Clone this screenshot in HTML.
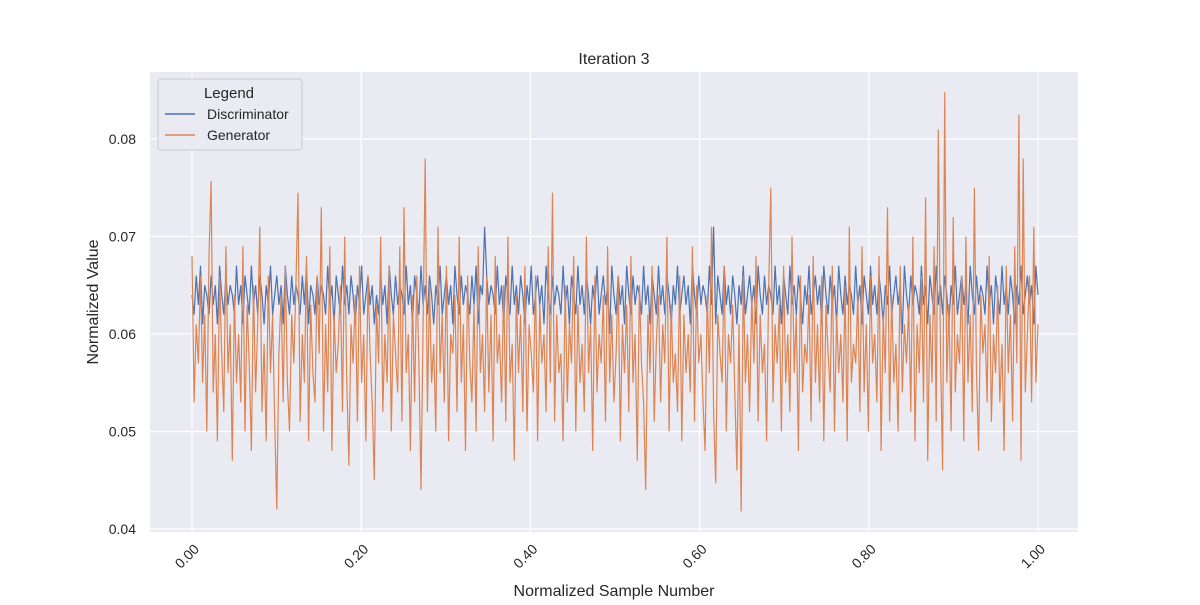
<!DOCTYPE html>
<html><head><meta charset="utf-8"><style>
body{margin:0;background:#fff;font-family:"Liberation Sans",sans-serif}
svg text{font-family:"Liberation Sans",sans-serif;fill:#262626}
</style></head><body>
<svg id="chart" width="1200" height="600">
<rect x="150" y="72" width="928" height="460" fill="#eaeaf2"/>
<g id="grid"></g>
<g id="series"></g>
<g id="axes"></g>
<text x="614" y="64" text-anchor="middle" font-size="16">Iteration 3</text>
<text x="614" y="596" text-anchor="middle" font-size="16">Normalized Sample Number</text>
<text transform="translate(98,302) rotate(-90)" text-anchor="middle" font-size="16">Normalized Value</text>
<g>
<rect x="158" y="79" width="144" height="71" rx="3" fill="#eaeaf2" stroke="#cccccc"/>
<text x="229" y="98" text-anchor="middle" font-size="15">Legend</text>
<line x1="165" y1="114" x2="195" y2="114" stroke="#4c72b0" stroke-width="1.5"/>
<text x="207" y="119" font-size="14">Discriminator</text>
<line x1="165" y1="135" x2="195" y2="135" stroke="#dd8452" stroke-width="1.5"/>
<text x="207" y="140" font-size="14">Generator</text>
</g>
</svg>
<script>
const yTicks=[0.04,0.05,0.06,0.07,0.08];
const xTicks=[0,0.2,0.4,0.6,0.8,1.0];
const xTickLabels=["0.00","0.20","0.40","0.60","0.80","1.00"];
const generator=[
68,53,61,57,66,55,62,50,68,75.7,54,60,49,66,58,52,69,56,61,47,
64,55,60,53,69,50,63,57,48,65,54,61,71,52,59,49,66,56,62,51,
42,58,64,53,67,55,50,62,57,65,74.5,51,60,55,68,49,63,56,53,66,
58,73,50,61,54,69,48,62,56,59,65,52,70,55,46.5,61,57,64,51,67,
55,60,49,66,58,53,45,63,57,70,52,60,55,67,50,62,58,54,69,51,
73,56,60,48,64,53,66,57,44,61,78,52,65,55,59,50,71,56,62,53,
67,49,60,58,64,52,70,55,61,48,66,57,53,63,50,69,56,60,52,66,
54,62,49,68,57,60,53,65,51,70,55,59,47,64,56,62,52,67,50,61,
58,54,66,49,63,57,60,52,69,55,74.5,51,62,56,58,49,65,53,61,57,
68,50,63,55,59,52,70,56,61,48,66,54,60,57,64,51,69,55,62,53,
58,66,49,61,56,63,52,68,55,60,47,65,57,53,44,62,56,67,51,59,
64,53,61,57,70,50,63,55,58,52,66,49,62,56,60,54,69,51,65,57,
60,53,48,64,56,71,52,44.7,62,58,55,67,50,60,57,63,54,46,61,41.8,
66,55,60,52,64,57,68,51,62,56,59,49,65,75,53,61,57,63,50,67,
55,60,52,70,56,62,48,66,54,59,57,64,51,68,55,61,53,66,49,63,
58,54,67,50,62,56,60,53,65,49,71,55,59,57,64,52,69,54,61,50,
66,57,60,53,68,48,62,56,73,51,64,55,59,50,67,54,61,57,63,52,
70,49,61,56,66,53,74,47,62,55,69,51,81,58,46,84.8,55,63,50,72,
54,60,57,66,49,70,55,62,52,75,56,48,64,58,61,53,68,51,60,56,
65,53,59,48,67,56,62,51,69,57,82.5,47,78,54,60,66,53,71,55,61];
const discriminator=[
64,62,66,63,67,61,65,64,62,66,63,65,61,67,64,62,66,63,65,64,
62,67,63,65,61,66,64,62,67,63,65,62,66,64,61,65,63,67,62,64,
66,63,65,61,67,64,62,66,63,65,64,62,66,63,67,61,65,64,62,66,
63,65,64,62,67,63,65,61,66,64,62,67,63,65,62,66,64,61,65,63,
67,62,64,66,63,65,61,64,62,66,63,65,61,67,64,62,66,63,65,64,
62,67,63,65,61,66,64,62,67,63,65,62,66,64,61,65,63,67,62,64,
66,63,65,61,67,64,62,66,63,65,64,62,66,63,67,61,65,64,71,66,
63,65,64,62,67,63,65,61,66,64,62,67,63,65,62,66,64,61,65,63,
67,62,64,66,63,65,61,67,64,62,66,63,65,64,62,67,63,65,61,66,
64,62,67,63,65,62,66,64,61,65,63,67,62,64,66,63,65,60,67,64,
62,66,63,65,61,67,64,62,66,63,65,64,62,67,63,65,61,66,64,62,
67,63,65,62,66,64,61,65,63,67,62,64,66,63,65,61,67,64,62,66,
63,65,64,62,67,63,71,61,66,64,62,67,63,65,62,66,64,61,65,63,
67,62,64,66,63,65,61,67,64,62,66,63,65,64,62,67,63,65,61,66,
64,62,67,63,65,62,66,64,61,65,63,67,62,64,66,63,65,61,67,64,
62,66,63,65,61,67,64,62,66,63,65,64,62,67,63,65,61,66,64,62,
67,63,65,62,66,64,61,65,63,67,62,64,66,63,65,60,67,64,62,66,
63,65,64,62,67,63,65,61,66,64,62,67,63,65,62,66,64,61,65,63,
67,62,64,66,63,65,61,67,64,62,66,63,65,64,62,67,63,65,61,66,
64,62,67,63,65,62,66,64,61,65,63,67,62,64,66,63,65,61,67,64];
const NS="http://www.w3.org/2000/svg";
const X=v=>192+v*846;
const Y=v=>529-(v-0.04)*9750;
function mk(t,a,p){const e=document.createElementNS(NS,t);for(const k in a)e.setAttribute(k,a[k]);p.appendChild(e);return e;}
const grid=document.getElementById('grid'),axes=document.getElementById('axes'),series=document.getElementById('series');
yTicks.forEach(v=>{
 const l=mk('line',{x1:150,x2:1078,y1:Y(v),y2:Y(v),stroke:'#fff','stroke-width':1.2},grid);
 
 
 const t=mk('text',{x:136,y:Y(v)+5,'text-anchor':'end','font-size':14},axes);
 t.textContent=v.toFixed(2);
 
 
});
xTicks.forEach((v,i)=>{
 const l=mk('line',{x1:X(v),x2:X(v),y1:72,y2:532,stroke:'#fff','stroke-width':1.2},grid);
 
 
 const t=mk('text',{transform:`translate(${X(v)+8},${550}) rotate(-45)`,'text-anchor':'end','font-size':14},axes);
 t.textContent=xTickLabels[i];
 
 
});
function line(arr,color,name){
 const n=arr.length;
 const d=arr.map((v,i)=>(i?'L':'M')+X(i/(n-1)).toFixed(1)+','+Y(v/1000).toFixed(1)).join('');
 const p=mk('path',{d:d,fill:'none',stroke:color,'stroke-width':1.2},series);
 
 
}
line(discriminator,'#4c72b0','discriminator-line');
line(generator,'#dd8452','generator-line');
</script>
</body></html>
